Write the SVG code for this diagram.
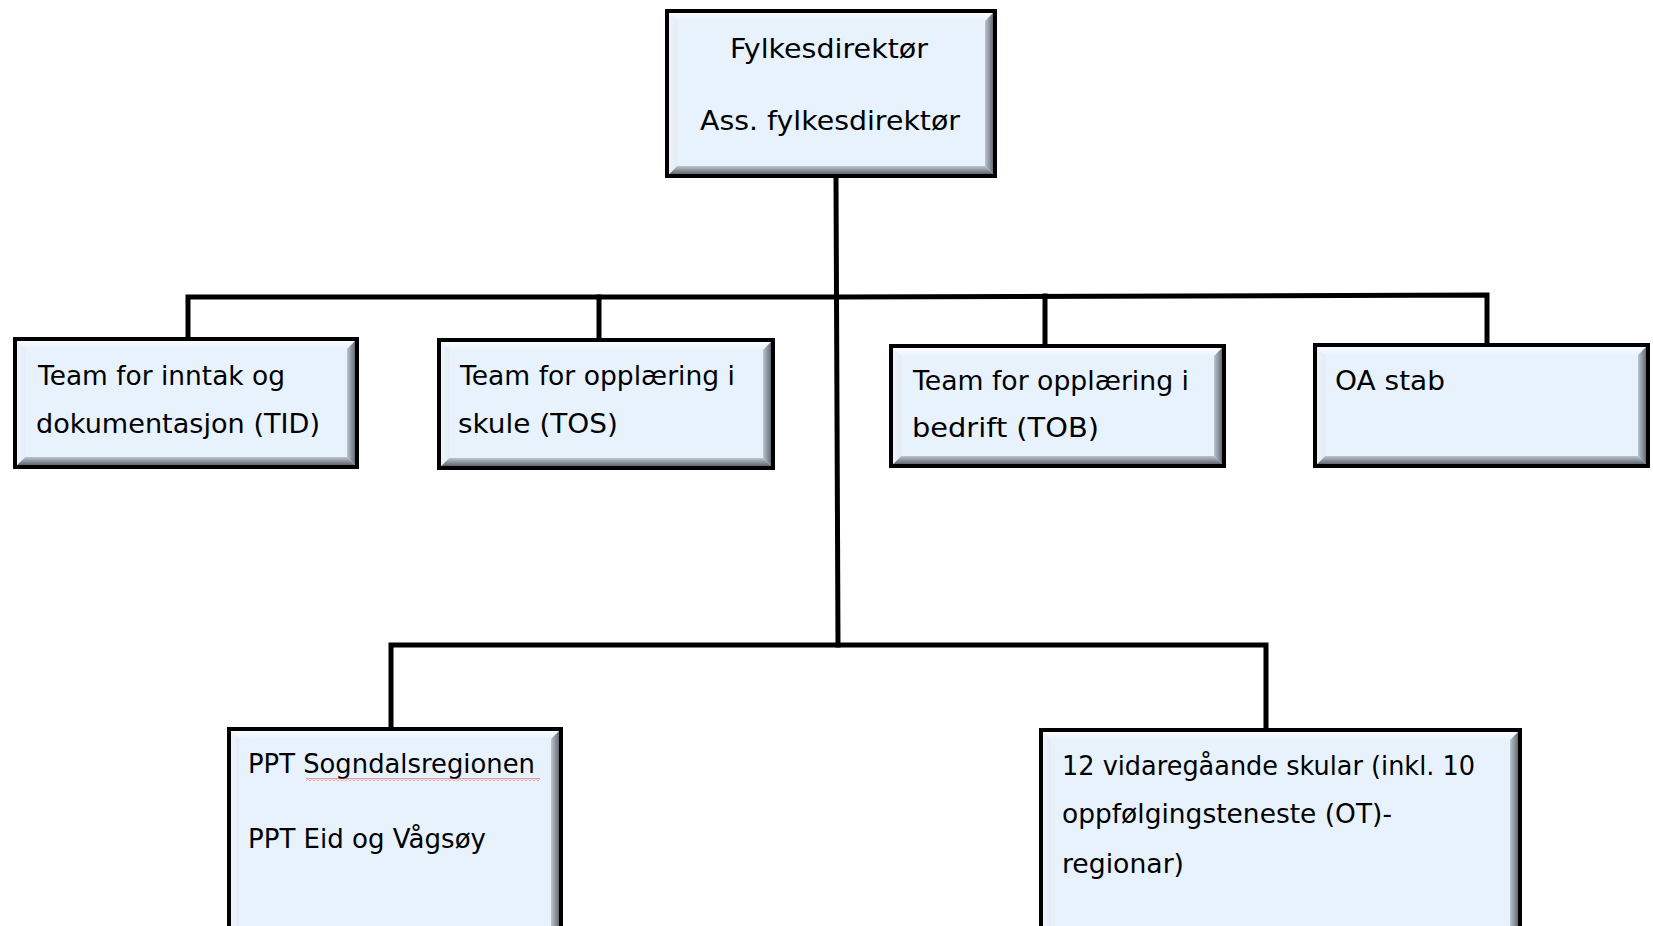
<svg xmlns="http://www.w3.org/2000/svg" width="1653" height="926" viewBox="0 0 1653 926">
<defs>
<linearGradient id="gT" x1="0" y1="0" x2="0" y2="1"><stop offset="0" stop-color="#ffffff"/><stop offset="1" stop-color="#e8f2fd"/></linearGradient>
<linearGradient id="gB" x1="0" y1="0" x2="0" y2="1"><stop offset="0" stop-color="#bcc5cf"/><stop offset="1" stop-color="#4a5058"/></linearGradient>
<linearGradient id="gL" x1="0" y1="0" x2="1" y2="0"><stop offset="0" stop-color="#f4f7fb"/><stop offset="1" stop-color="#e3ecf6"/></linearGradient>
<linearGradient id="gR" x1="0" y1="0" x2="1" y2="0"><stop offset="0" stop-color="#bcc5cf"/><stop offset="1" stop-color="#50565e"/></linearGradient>
<pattern id="wave" x="0" y="0" width="4" height="3" patternUnits="userSpaceOnUse">
<polyline points="0,2.5 2,0.5 4,2.5" fill="none" stroke="#e8413a" stroke-width="1"/>
</pattern>
</defs>
<style>
.fill{fill:#e8f2fd;stroke:none}
.bt{fill:url(#gT)}
.bb{fill:url(#gB)}
.bl{fill:url(#gL)}
.br{fill:url(#gR)}
.frame{fill:none;stroke:#000;stroke-width:4}
.lbl{font-family:"DejaVu Sans","Liberation Sans",sans-serif;font-size:27px;fill:#000}
.con{fill:none;stroke:#000;stroke-width:5;stroke-linecap:square}
</style>
<rect width="1653" height="926" fill="#fff"/>

<g id="connectors">
<polyline class="con" points="836,180 838,645"/>
<polyline class="con" points="188,337 188,297 836,297 1487,295 1487,342"/>
<line class="con" x1="599" y1="297" x2="599" y2="337"/>
<line class="con" x1="1045" y1="296" x2="1045" y2="343"/>
<polyline class="con" points="391,726 391,645 1266,645 1266,727"/>
</g>

<g id="n-top">
<rect class="fill" x="667" y="11" width="328" height="165"/>
<polygon class="bt" points="667,11 995,11 985,21 677,21"/>
<polygon class="bb" points="667,176 995,176 985,166 677,166"/>
<polygon class="bl" points="667,11 677,21 677,166 667,176"/>
<polygon class="br" points="995,11 985,21 985,166 995,176"/>
<rect class="frame" x="667" y="11" width="328" height="165"/>
<text class="lbl" x="730" y="58" textLength="198" lengthAdjust="spacingAndGlyphs">Fylkesdirektør</text>
<text class="lbl" x="700" y="130" textLength="260" lengthAdjust="spacingAndGlyphs">Ass. fylkesdirektør</text>
</g>

<g id="n-tid">
<rect class="fill" x="15" y="339" width="342" height="128"/>
<polygon class="bt" points="15,339 357,339 347,349 25,349"/>
<polygon class="bb" points="15,467 357,467 347,457 25,457"/>
<polygon class="bl" points="15,339 25,349 25,457 15,467"/>
<polygon class="br" points="357,339 347,349 347,457 357,467"/>
<rect class="frame" x="15" y="339" width="342" height="128"/>
<text class="lbl" x="38" y="385" textLength="247" lengthAdjust="spacingAndGlyphs">Team for inntak og</text>
<text class="lbl" x="36" y="433" textLength="284" lengthAdjust="spacingAndGlyphs">dokumentasjon (TID)</text>
</g>

<g id="n-tos">
<rect class="fill" x="439" y="340" width="334" height="128"/>
<polygon class="bt" points="439,340 773,340 763,350 449,350"/>
<polygon class="bb" points="439,468 773,468 763,458 449,458"/>
<polygon class="bl" points="439,340 449,350 449,458 439,468"/>
<polygon class="br" points="773,340 763,350 763,458 773,468"/>
<rect class="frame" x="439" y="340" width="334" height="128"/>
<text class="lbl" x="460" y="385" textLength="275" lengthAdjust="spacingAndGlyphs">Team for opplæring i</text>
<text class="lbl" x="458" y="433" textLength="160" lengthAdjust="spacingAndGlyphs">skule (TOS)</text>
</g>

<g id="n-tob">
<rect class="fill" x="891" y="346" width="333" height="120"/>
<polygon class="bt" points="891,346 1224,346 1214,356 901,356"/>
<polygon class="bb" points="891,466 1224,466 1214,456 901,456"/>
<polygon class="bl" points="891,346 901,356 901,456 891,466"/>
<polygon class="br" points="1224,346 1214,356 1214,456 1224,466"/>
<rect class="frame" x="891" y="346" width="333" height="120"/>
<text class="lbl" x="913" y="390" textLength="276" lengthAdjust="spacingAndGlyphs">Team for opplæring i</text>
<text class="lbl" x="912" y="437" textLength="187" lengthAdjust="spacingAndGlyphs">bedrift (TOB)</text>
</g>

<g id="n-oa">
<rect class="fill" x="1315" y="345" width="333" height="121"/>
<polygon class="bt" points="1315,345 1648,345 1638,355 1325,355"/>
<polygon class="bb" points="1315,466 1648,466 1638,456 1325,456"/>
<polygon class="bl" points="1315,345 1325,355 1325,456 1315,466"/>
<polygon class="br" points="1648,345 1638,355 1638,456 1648,466"/>
<rect class="frame" x="1315" y="345" width="333" height="121"/>
<text class="lbl" x="1335" y="390" textLength="110" lengthAdjust="spacingAndGlyphs">OA stab</text>
</g>

<g id="n-ppt">
<rect class="fill" x="229" y="729" width="332" height="210"/>
<polygon class="bt" points="229,729 561,729 551,739 239,739"/>
<polygon class="bl" points="229,729 239,739 239,939 229,939"/>
<polygon class="br" points="561,729 551,739 551,939 561,939"/>
<rect class="frame" x="229" y="729" width="332" height="210"/>
<text class="lbl" x="248" y="773" textLength="287" lengthAdjust="spacingAndGlyphs">PPT Sogndalsregionen</text>
<rect x="306" y="778" width="234" height="3" fill="url(#wave)"/>
<text class="lbl" x="248" y="848" textLength="238" lengthAdjust="spacingAndGlyphs">PPT Eid og Vågsøy</text>
</g>

<g id="n-vgs">
<rect class="fill" x="1041" y="730" width="479" height="210"/>
<polygon class="bt" points="1041,730 1520,730 1510,740 1051,740"/>
<polygon class="bl" points="1041,730 1051,740 1051,940 1041,940"/>
<polygon class="br" points="1520,730 1510,740 1510,940 1520,940"/>
<rect class="frame" x="1041" y="730" width="479" height="210"/>
<text class="lbl" x="1062" y="775" textLength="413" lengthAdjust="spacingAndGlyphs">12 vidaregåande skular (inkl. 10</text>
<text class="lbl" x="1062" y="823" textLength="330" lengthAdjust="spacingAndGlyphs">oppfølgingsteneste (OT)-</text>
<text class="lbl" x="1062" y="873" textLength="122" lengthAdjust="spacingAndGlyphs">regionar)</text>
</g>
</svg>
